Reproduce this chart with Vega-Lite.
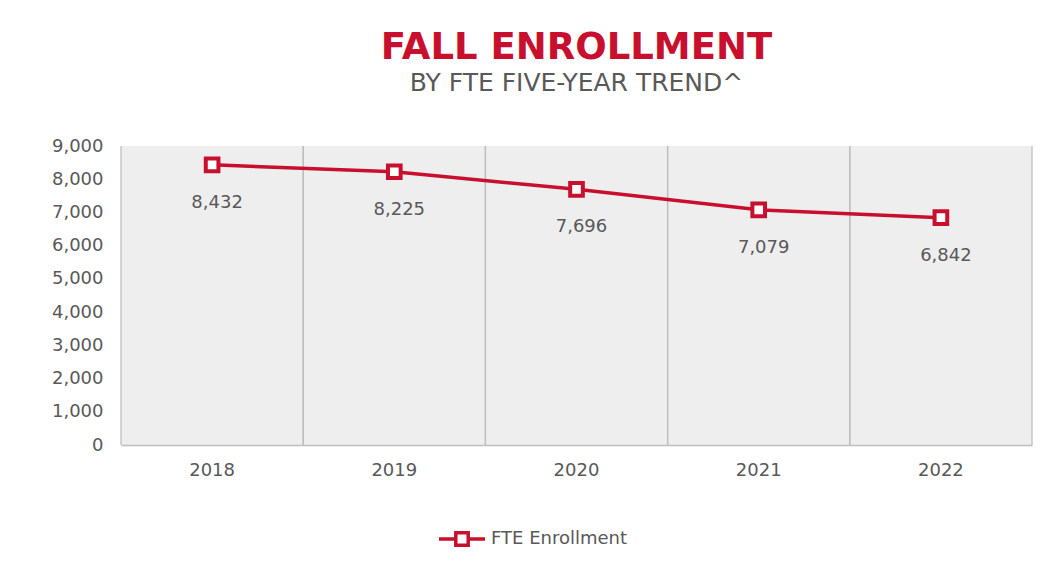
{
  "$schema": "https://vega.github.io/schema/vega-lite/v6.json",
  "width": 911,
  "height": 299,
  "autosize": "none",
  "padding": {"left": 121, "top": 146, "right": 20, "bottom": 131},
  "background": "white",
  "title": {
    "text": "FALL ENROLLMENT",
    "subtitle": "BY FTE FIVE-YEAR TREND^",
    "anchor": "middle",
    "font": "DejaVu Sans",
    "fontSize": 37,
    "fontWeight": "bold",
    "color": "#c8102e",
    "subtitleFont": "DejaVu Sans",
    "subtitleFontSize": 25,
    "subtitleColor": "#595959",
    "subtitlePadding": 4,
    "offset": 40
  },
  "data": {
    "values": [
      {"year": "2018", "value": 8432, "series": "FTE Enrollment"},
      {"year": "2019", "value": 8225, "series": "FTE Enrollment"},
      {"year": "2020", "value": 7696, "series": "FTE Enrollment"},
      {"year": "2021", "value": 7079, "series": "FTE Enrollment"},
      {"year": "2022", "value": 6842, "series": "FTE Enrollment"}
    ]
  },
  "encoding": {
    "x": {
      "field": "year",
      "type": "ordinal",
      "scale": {"type": "band", "paddingInner": 0, "paddingOuter": 0},
      "axis": {
        "title": null,
        "labelAngle": 0,
        "domain": true,
        "domainColor": "#bfbfbf",
        "domainWidth": 1.5,
        "ticks": false,
        "grid": false,
        "labelFont": "DejaVu Sans",
        "labelFontSize": 18,
        "labelColor": "#595959",
        "labelPadding": 16
      }
    },
    "y": {
      "field": "value",
      "type": "quantitative",
      "scale": {"domain": [0, 9000], "nice": false},
      "axis": {
        "title": null,
        "values": [0, 1000, 2000, 3000, 4000, 5000, 6000, 7000, 8000, 9000],
        "format": ",d",
        "domain": false,
        "ticks": false,
        "grid": false,
        "labelFont": "DejaVu Sans",
        "labelFontSize": 18,
        "labelColor": "#595959",
        "labelPadding": 18
      }
    }
  },
  "layer": [
    {
      "mark": {"type": "rule", "color": "#bfbfbf", "strokeWidth": 1.3},
      "encoding": {
        "x": {"field": "year", "type": "ordinal", "bandPosition": 0},
        "y": {"datum": 0, "type": "quantitative"},
        "y2": {"datum": 9000}
      }
    },
    {
      "mark": {"type": "rule", "color": "#bfbfbf", "strokeWidth": 1.3},
      "encoding": {
        "x": {"field": "year", "type": "ordinal", "bandPosition": 1},
        "y": {"datum": 0, "type": "quantitative"},
        "y2": {"datum": 9000}
      }
    },
    {
      "mark": {"type": "line", "strokeWidth": 3.5},
      "encoding": {
        "color": {
          "field": "series",
          "type": "nominal",
          "scale": {"domain": ["FTE Enrollment"], "range": ["#c8102e"]},
          "legend": {
            "title": null,
            "orient": "none",
            "legendX": 316,
            "legendY": 368,
            "symbolType": "M-1,0L-0.27,0M0.27,0L1,0M-0.27,-0.27L0.27,-0.27L0.27,0.27L-0.27,0.27Z",
            "symbolSize": 2116,
            "symbolStrokeWidth": 3.5,
            "symbolFillColor": "white",
            "labelFont": "DejaVu Sans",
            "labelFontSize": 18,
            "labelColor": "#595959",
            "labelOffset": 4
          }
        }
      }
    },
    {
      "mark": {"type": "point", "shape": "square", "filled": true, "fill": "white", "stroke": "#c8102e", "strokeWidth": 4, "size": 160, "opacity": 1}
    },
    {
      "mark": {"type": "text", "font": "DejaVu Sans", "fontSize": 18, "color": "#595959", "dy": 38, "dx": 5},
      "encoding": {
        "text": {"field": "value", "type": "quantitative", "format": ","}
      }
    }
  ],
  "config": {
    "view": {"fill": "#eeeeee", "stroke": null}
  }
}
